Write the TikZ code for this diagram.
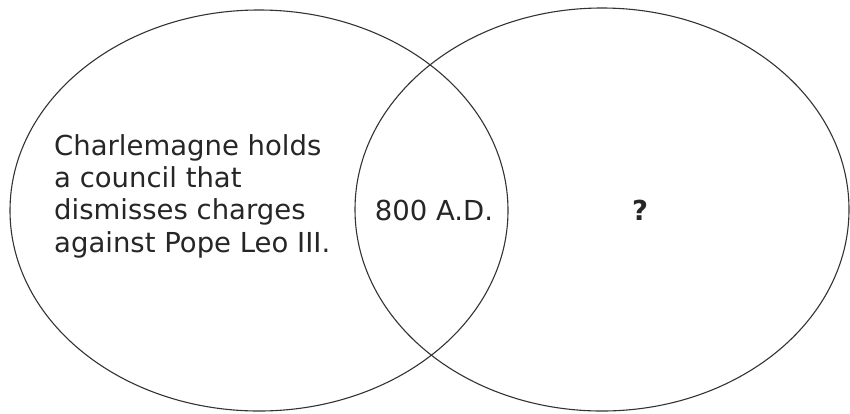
\documentclass[tikz,border=0pt]{standalone}
\usepackage{fontspec}
\setmainfont{DejaVu Sans}
\usetikzlibrary{shapes.geometric}

\begin{document}
\begin{tikzpicture}[x=1pt, y=-1pt]
	\useasboundingbox (0, 0) rectangle (850, 413);
	\tikzset{
		set/.style={draw=black!80, line width=1.1pt, ellipse, inner sep=0pt},
		label/.style={font=\fontsize{27.5}{32.3}\selectfont, text=black!85, inner sep=0pt}
	}
	\path (259, 210.5) node[set, minimum width=498pt, minimum height=401pt] (setA){}
		(602, 209.5) node[set, minimum width=494pt, minimum height=403pt] (setB){};

	\path (54, 134) node[label, anchor=north west, align=left] (charles){Charlemagne holds\\a council that\\dismisses charges\\against Pope Leo III.}
		(434, 220) node[label, anchor=base] (year){800 A.D.}
		(640, 220) node[label, anchor=base, font=\fontsize{27.5}{32.3}\selectfont\bfseries] (unknown){?};
\end{tikzpicture}
\end{document}
